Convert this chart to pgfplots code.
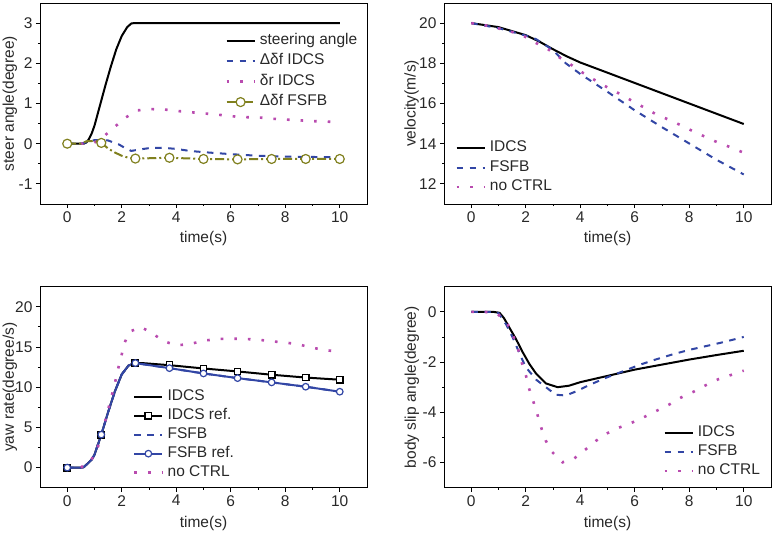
\documentclass[border=0pt]{standalone}
\usepackage{fontspec}
\setmainfont{Liberation Sans}
\usepackage{pgfplots}
\pgfplotsset{compat=1.18}
\definecolor{cblue}{RGB}{50,70,165}
\definecolor{cmag}{RGB}{185,75,175}
\definecolor{colive}{RGB}{128,128,30}
\definecolor{ctext}{RGB}{40,40,40}
\newcommand{\fs}{\fontsize{15.5}{18}\selectfont}
\pgfplotsset{
 myax/.style={
  scale only axis, width=327pt, height=201pt,
  xmin=-1, xmax=11, xtick={0,2,...,10}, minor x tick num=1, minor y tick num=1,
  axis line style={line width=0.9pt},
  tick align=outside, xtick pos=bottom, ytick pos=left,
  major tick length=4pt, minor tick length=2pt,
  every tick/.style={black, line width=0.9pt},
  tick label style={font=\fs, text=ctext},
  /pgf/number format/assume math mode=true,
  label style={font=\fs, text=ctext},
  xlabel={time(s)},
  xlabel style={at={(axis description cs:0.5,-0.171)}, anchor=center},
  legend style={draw=none, fill=none, font=\fs, text=ctext, anchor=north west, inner sep=0pt,
    nodes={inner sep=1pt, text height=11pt, text depth=3.5pt},
    /tikz/every odd column/.append style={column sep=3pt}},
  legend cell align=left,
  legend image code/.code={\draw[mark repeat=2,mark phase=2,##1] plot coordinates {(0pt,0pt) (14pt,0pt) (28pt,0pt)};},
 },
 solidk/.style={black, line width=2pt},
 dashb/.style={cblue, line width=2pt, dash pattern=on 6.5pt off 6.5pt},
 dotm/.style={cmag, line width=2.6pt, dash pattern=on 2.6pt off 11pt},
}
\begin{document}
\begin{tikzpicture}
\path[use as bounding box] (0,0) rectangle (774pt,-554pt);
% (a)
\begin{axis}[myax, at={(40pt,-3pt)}, anchor=north west,
  ymin=-1.5, ymax=3.5, ytick={-1,0,1,2,3},
  ylabel={steer angle(degree)},
  ylabel style={at={(axis description cs:-0.092,0.5)}, anchor=center},
  legend style={at={(axis description cs:0.566,0.855)}, row sep=4pt}]
\addplot[solidk] coordinates {(0,0) (0.6,0) (0.7,0.03) (0.8,0.12) (0.9,0.26) (1.0,0.45) (1.2,0.95) (1.4,1.45) (1.6,1.92) (1.8,2.35) (2.0,2.68) (2.2,2.9) (2.35,2.99) (2.45,3) (10,3)};
\addlegendentry{steering angle}
\addplot[dashb] coordinates {(0,0) (0.5,0) (0.8,0.05) (1.0,0.09) (1.5,0.08) (1.9,-0.02) (2.1,-0.1) (2.35,-0.18) (2.6,-0.15) (3.0,-0.11) (3.5,-0.1) (4.0,-0.13) (4.5,-0.18) (5.0,-0.21) (6.0,-0.26) (7.0,-0.3) (8.0,-0.32) (9.0,-0.33) (10,-0.34)};
\addlegendentry{Δδf IDCS}
\addplot[dotm] coordinates {(0,0) (0.5,0) (0.98,0.02) (1.34,0.18) (1.71,0.4) (2.14,0.65) (2.59,0.83) (3.07,0.86) (3.58,0.85) (4.1,0.81) (4.58,0.78) (5.06,0.75) (5.56,0.72) (6.08,0.68) (6.56,0.66) (7.07,0.65) (7.55,0.62) (8.04,0.6) (8.56,0.58) (9.05,0.56) (9.53,0.55) (10,0.53)};
\addlegendentry{δr IDCS}
\addplot[colive, line width=2pt, dash pattern=on 9pt off 3pt on 2pt off 3pt, forget plot] coordinates {(0,0) (0.5,0) (0.7,0.06) (1.0,0.07) (1.25,0.02) (1.5,-0.12) (1.75,-0.22) (2.0,-0.3) (2.25,-0.35) (2.5,-0.37) (3.75,-0.35) (5,-0.38) (6.25,-0.39) (7.5,-0.38) (8.75,-0.38) (10,-0.38)};
\addplot[colive, only marks, mark=*, mark size=4.5pt, mark options={fill=white, line width=1.2pt}, forget plot] coordinates {(0,0) (1.25,0.02) (2.5,-0.37) (3.75,-0.35) (5,-0.38) (6.25,-0.39) (7.5,-0.38) (8.75,-0.38) (10,-0.38)};
\addlegendimage{colive, line width=2pt, dash pattern=on 9pt off 3pt on 2pt off 3pt, mark=*, mark size=4.5pt, mark options={fill=white, line width=1.2pt, solid}}
\addlegendentry{Δδf FSFB}
\node[font=\fs, text=ctext] at (rel axis cs:0.5,-0.264) {(a)};
\end{axis}
% (b)
\begin{axis}[myax, at={(444pt,-3pt)}, anchor=north west,
  ymin=11, ymax=21, ytick={12,14,16,18,20},
  ylabel={velocity(m/s)},
  ylabel style={at={(axis description cs:-0.099,0.5)}, anchor=center},
  legend style={at={(axis description cs:0.034,0.32)}, row sep=3pt}]
\addplot[solidk] coordinates {(0,20) (1,19.8) (2,19.4) (2.5,19.08) (3,18.7) (3.5,18.35) (4,18.04) (4.69,17.69) (10,14.98)};
\addlegendentry{IDCS}
\addplot[dashb] coordinates {(0,20) (1,19.75) (2,19.38) (2.38,19.2) (2.98,18.68) (3.47,18.0) (4,17.47) (5,16.58) (6,15.66) (7,14.82) (8,14.01) (9,13.2) (10,12.47)};
\addlegendentry{FSFB}
\addplot[dotm] coordinates {(0,20) (0.55,19.88) (1.04,19.72) (1.52,19.55) (1.95,19.34) (2.38,19.01) (2.84,18.68) (3.25,18.28) (3.65,17.94) (4.08,17.54) (4.54,17.16) (4.96,16.83) (5.42,16.5) (5.85,16.17) (6.33,15.81) (6.76,15.48) (7.22,15.21) (7.69,14.92) (8.14,14.62) (8.59,14.34) (9.05,14.06) (9.5,13.83) (10,13.55)};
\addlegendentry{no CTRL}
\node[font=\fs, text=ctext] at (rel axis cs:0.5,-0.264) {(b)};
\end{axis}
% (c)
\begin{axis}[myax, at={(40pt,-286.7pt)}, anchor=north west,
  ymin=-2.5, ymax=22.5, ytick={0,5,10,15,20},
  ylabel={yaw rate(degree/s)},
  ylabel style={at={(axis description cs:-0.092,0.5)}, anchor=center},
  xlabel style={at={(axis description cs:0.5,-0.178)}},
  legend style={at={(axis description cs:0.284,0.495)}, row sep=2.5pt}]
\addplot[solidk, forget plot] coordinates {(0,0) (0.5,0) (0.6,0.05) (0.75,0.5) (0.9,1.0) (1.0,1.6) (1.25,4.1) (1.5,6.9) (1.75,9.5) (2.0,11.6) (2.25,12.7) (2.5,13.0) (2.75,13.0) (3.75,12.74) (5,12.33) (6.25,11.96) (7.5,11.55) (8.75,11.2) (10,10.93)};
\addplot[black, only marks, mark=square*, mark size=3.3pt, mark options={fill=white, line width=1.2pt}, forget plot] coordinates {(0,0) (1.25,4.1) (2.5,13.0) (3.75,12.74) (5,12.33) (6.25,11.96) (7.5,11.55) (8.75,11.2) (10,10.93)};
\addplot[dashb, forget plot] coordinates {(0,0) (0.5,0) (0.6,0.05) (0.75,0.5) (0.9,1.0) (1.0,1.6) (1.25,4.1) (1.5,6.9) (1.75,9.5) (2.0,11.6) (2.25,12.7) (2.5,13.0) (3.75,12.37) (5,11.71) (6.25,11.13) (7.5,10.6) (8.75,10.06) (10,9.44)};
\addplot[cblue, line width=2pt, forget plot] coordinates {(0,0) (0.5,0) (0.6,0.05) (0.75,0.5) (0.9,1.0) (1.0,1.6) (1.25,4.1) (1.5,6.9) (1.75,9.5) (2.0,11.6) (2.25,12.7) (2.5,13.0) (3.75,12.37) (5,11.71) (6.25,11.13) (7.5,10.6) (8.75,10.06) (10,9.44)};
\addplot[cblue, only marks, mark=*, mark size=3.3pt, mark options={fill=white, line width=1.2pt}, forget plot] coordinates {(0,0) (1.25,4.1) (2.5,13.0) (3.75,12.37) (5,11.71) (6.25,11.13) (7.5,10.6) (8.75,10.06) (10,9.44)};
\addplot[dotm, forget plot] coordinates {(0,0) (0.49,0) (0.86,0.8) (1.1,2.35) (1.26,3.9) (1.38,5.6) (1.5,7.2) (1.63,8.9) (1.75,10.5) (1.86,12.2) (1.98,13.8) (2.1,15.5) (2.29,16.9) (2.7,17.5) (3.12,16.7) (3.55,15.7) (4.03,15.2) (4.54,15.4) (5.04,15.8) (5.53,16.0) (6.03,16.04) (6.53,16.0) (7.03,15.9) (7.52,15.7) (8.02,15.55) (8.52,15.3) (9.0,14.9) (9.5,14.6) (10,14.4)};
\addlegendimage{solidk}
\addlegendentry{IDCS}
\addlegendimage{black, line width=2pt, mark=square*, mark size=3.3pt, mark options={fill=white, line width=1.2pt}}
\addlegendentry{IDCS ref.}
\addlegendimage{dashb}
\addlegendentry{FSFB}
\addlegendimage{cblue, line width=2pt, mark=*, mark size=3.3pt, mark options={fill=white, line width=1.2pt}}
\addlegendentry{FSFB ref.}
\addlegendimage{dotm}
\addlegendentry{no CTRL}
\node[font=\fs, text=ctext] at (rel axis cs:0.5,-0.277) {(c)};
\end{axis}
% (d)
\begin{axis}[myax, at={(444pt,-286.7pt)}, anchor=north west,
  ymin=-7, ymax=1, ytick={-6,-4,-2,0},
  ylabel={body slip angle(degree)},
  ylabel style={at={(axis description cs:-0.098,0.5)}, anchor=center},
  xlabel style={at={(axis description cs:0.5,-0.178)}},
  legend style={at={(axis description cs:0.67,0.315)}, row sep=2.5pt}]
\addplot[solidk] coordinates {(0,0) (0.8,0) (1.04,-0.04) (1.2,-0.25) (1.4,-0.63) (1.64,-1.08) (1.89,-1.61) (2.13,-2.07) (2.38,-2.46) (2.74,-2.85) (3.17,-3.0) (3.59,-2.94) (4,-2.8) (5,-2.55) (6,-2.3) (7,-2.1) (8,-1.9) (9,-1.72) (10,-1.55)};
\addlegendentry{IDCS}
\addplot[dashb] coordinates {(0,0) (0.8,0) (1.0,-0.05) (1.28,-0.5) (1.52,-1.02) (1.83,-1.8) (2.0,-2.2) (2.38,-2.7) (2.86,-3.1) (3.1,-3.3) (3.47,-3.33) (3.84,-3.17) (4.32,-2.92) (4.93,-2.63) (5.54,-2.38) (6.15,-2.12) (6.76,-1.9) (7.37,-1.7) (7.98,-1.52) (8.59,-1.37) (9.2,-1.22) (10,-1.0)};
\addlegendentry{FSFB}
\addplot[dotm] coordinates {(0,0) (0.49,0) (0.97,-0.08) (1.34,-0.5) (1.56,-1.02) (1.73,-1.52) (1.86,-2.04) (2.01,-2.55) (2.13,-3.08) (2.29,-3.61) (2.44,-4.13) (2.58,-4.65) (2.74,-5.14) (2.95,-5.56) (3.35,-5.99) (3.75,-5.86) (4.17,-5.5) (4.57,-5.14) (4.96,-4.85) (5.42,-4.61) (5.88,-4.42) (6.36,-4.18) (6.82,-3.93) (7.25,-3.7) (7.7,-3.41) (8.16,-3.18) (8.61,-2.92) (9.07,-2.68) (9.52,-2.52) (10,-2.34)};
\addlegendentry{no CTRL}
\node[font=\fs, text=ctext] at (rel axis cs:0.5,-0.277) {(d)};
\end{axis}
\end{tikzpicture}
\end{document}
